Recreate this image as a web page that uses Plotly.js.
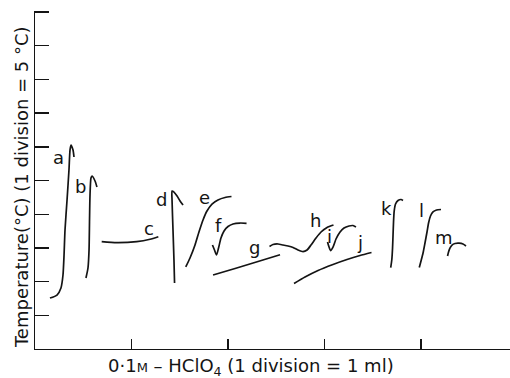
<!DOCTYPE html>
<html>
<head>
<meta charset="utf-8">
<script src="https://cdn.plot.ly/plotly-3.0.1.min.js"></script>
<style>html,body{margin:0;padding:0;background:#fff;}#chart{width:510px;height:378px;}</style>
</head>
<body>
<div id="chart"></div>
<script>
// x: 0.1 M HClO4 added (ml, 1 division = 1 ml); y: temperature (°C, 1 division = 5 °C)
const aX = [0.155,0.228,0.269,0.290,0.301,0.311,0.332,0.352,0.363,0.373,0.394,0.404];
const aY = [7.57,8.01,9.05,10.98,13.95,17.66,22.11,26.56,29.53,30.27,29.53,28.49];
const bX = [0.528,0.549,0.560,0.565,0.570,0.580,0.591,0.622,0.642];
const bY = [10.53,12.02,14.69,19.14,22.85,25.37,25.67,24.93,24.04];
const cX = [0.691,0.847,1.054,1.192,1.278];
const cY = [15.92,15.77,15.92,16.28,16.66];
const dX = [1.446,1.440,1.430,1.420,1.420,1.440,1.472,1.503,1.534];
const dY = [9.79,13.20,17.66,22.11,23.44,23.29,22.70,21.96,21.36];
const eX = [1.562,1.606,1.658,1.699,1.741,1.782,1.834,1.896,1.969,2.036];
const eY = [12.17,13.50,15.43,17.36,19.14,20.47,21.51,22.11,22.48,22.63];
const fX = [1.839,1.860,1.881,1.902,1.927,1.959,2.000,2.052,2.124,2.192];
const fY = [15.43,14.69,13.95,14.99,16.47,17.51,18.18,18.55,18.69,18.65];
const gX = [1.845,2.073,2.311,2.539];
const gY = [10.98,11.94,12.98,13.99];
const hX = [2.430,2.466,2.518,2.570,2.622,2.674,2.725,2.777,2.819,2.860,2.912,2.964,3.026,3.093];
const hY = [15.21,15.50,15.58,15.43,15.28,15.06,14.69,14.44,14.69,15.43,16.47,17.36,18.03,18.40];
const iX = [3.031,3.047,3.062,3.088,3.119,3.161,3.202,3.254,3.295,3.326];
const iY = [15.88,15.13,14.61,15.13,16.32,17.36,17.95,18.25,18.32,18.10];
const jX = [2.684,2.798,2.933,3.088,3.233,3.368,3.487];
const jY = [9.72,10.68,11.65,12.54,13.28,13.87,14.32];
const kX = [3.686,3.697,3.705,3.710,3.715,3.722,3.736,3.762,3.793,3.813];
const kY = [12.09,13.20,14.99,16.91,18.84,20.47,21.51,22.03,22.18,22.03];
const lX = [3.982,4.000,4.021,4.041,4.062,4.078,4.098,4.124,4.161,4.207];
const lY = [12.09,13.06,14.24,15.73,17.36,18.69,19.73,20.33,20.62,20.70];
const mX = [4.275,4.285,4.301,4.321,4.352,4.394,4.435,4.466];
const mY = [13.80,14.39,14.99,15.43,15.65,15.70,15.58,15.28];

const curveNames = ['a','b','c','d','e','f','g','h','i','j','k','l','m'];
const curveX = [aX,bX,cX,dX,eX,fX,gX,hX,iX,jX,kX,lX,mX];
const curveY = [aY,bY,cY,dY,eY,fY,gY,hY,iY,jY,kY,lY,mY];

// curve letter label positions
const labelText = ['a','b','c','d','e','f','g','h','i','j','k','l','m'];
const labelX = [0.247,0.472,1.178,1.309,1.753,1.899,2.271,2.910,3.049,3.371,3.639,4.000,4.240];
const labelY = [28.41,24.11,17.91,22.11,22.45,18.32,15.06,19.14,16.62,15.73,20.85,20.62,16.54];

const xTicks = [1,2,3,4];
const yTicks = [5,10,15,20,25,30,35,40,45,50];

const ink = '#141414';
const font = 'DejaVu Sans, Liberation Sans, sans-serif';

const traces = curveNames.map((n, k) => ({
  type: 'scatter', mode: 'lines', name: n,
  x: curveX[k], y: curveY[k],
  line: {color: ink, width: 1.7, shape: 'spline', smoothing: 0.6},
  hoverinfo: 'skip', showlegend: false
}));

const annotations = labelText.map((t, k) => ({
  x: labelX[k], y: labelY[k], xref: 'x', yref: 'y', text: t,
  showarrow: false, font: {family: font, size: 18, color: ink},
  xanchor: 'center', yanchor: 'middle'
}));

annotations.push({
  xref: 'paper', yref: 'paper', x: -0.0295, y: 0.479,
  text: 'Temperature(°C) (1 division = 5 °C)', textangle: -90,
  showarrow: false, font: {family: font, size: 18, color: ink},
  xanchor: 'center', yanchor: 'middle'
});
annotations.push({
  xref: 'paper', yref: 'paper', x: 0.455, y: -0.053,
  text: '0·1<span style="font-size:13px">M</span> – HClO<sub>4</sub> (1 division = 1 ml)',
  showarrow: false, font: {family: font, size: 18, color: ink},
  xanchor: 'center', yanchor: 'middle'
});

const layout = {
  width: 510, height: 378,
  margin: {l: 35, r: 0, t: 11, b: 29, pad: 0},
  paper_bgcolor: '#ffffff', plot_bgcolor: '#ffffff',
  showlegend: false,
  xaxis: {
    range: [0, 4.922], showline: true, linecolor: ink, linewidth: 1.4,
    ticks: 'inside', tickvals: xTicks, ticklen: 10, tickwidth: 1.4, tickcolor: ink,
    showticklabels: false, showgrid: false, zeroline: false, fixedrange: true
  },
  yaxis: {
    range: [0, 50.15], showline: true, linecolor: ink, linewidth: 1.4,
    ticks: 'inside', tickvals: yTicks, ticklen: 14, tickwidth: 1.4, tickcolor: ink,
    showticklabels: false, showgrid: false, zeroline: false, fixedrange: true
  },
  annotations: annotations
};

Plotly.newPlot('chart', traces, layout, {staticPlot: true, displayModeBar: false});
</script>
</body>
</html>
